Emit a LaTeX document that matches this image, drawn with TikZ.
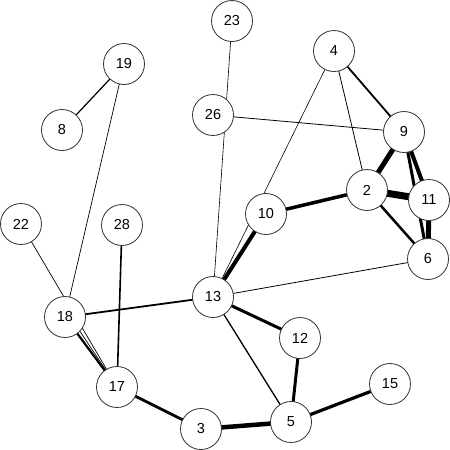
\documentclass[tikz,border=0pt]{standalone}
\usepackage{fontspec}
\setmainfont{Liberation Sans}
\usetikzlibrary{backgrounds}
\tikzset{
  vert/.style={circle, draw=black!80, line width=0.8pt, fill=white, minimum size=41pt, inner sep=0pt, font=\fontsize{14.5}{15}\selectfont},
  e/.style={line width=#1, draw=black},
}
\begin{document}
\begin{tikzpicture}[x=1pt,y=-1pt]
\useasboundingbox (0,0) rectangle (450,450);
\node[vert] (n23) at (232,21) {23};
\node[vert] (n4) at (334,51) {4};
\node[vert] (n19) at (124,64) {19};
\node[vert] (n8) at (62,130) {8};
\node[vert] (n26) at (213,115) {26};
\node[vert] (n9) at (404,132) {9};
\node[vert] (n2) at (367,190) {2};
\node[vert] (n11) at (429,200) {11};
\node[vert] (n6) at (428,259) {6};
\node[vert] (n10) at (266,214) {10};
\node[vert] (n28) at (122,225) {28};
\node[vert] (n22) at (21,224) {22};
\node[vert] (n13) at (213,297) {13};
\node[vert] (n18) at (65,317) {18};
\node[vert] (n12) at (300,338) {12};
\node[vert] (n17) at (117,387) {17};
\node[vert] (n15) at (390,384) {15};
\node[vert] (n3) at (201,429) {3};
\node[vert] (n5) at (291,422) {5};
\begin{scope}[on background layer]
\draw[e=0.6pt] (n23.center) -- (n13.center);
\draw[e=0.8pt] (n26.center) -- (n9.center);
\draw[e=0.6pt] (n4.center) -- (n13.center);
\draw[e=0.8pt] (n4.center) -- (n2.center);
\draw[e=1.8pt] (n4.center) -- (n9.center);
\draw[e=5pt] (n9.center) -- (n2.center);
\draw[e=4pt] (n9.center) -- (n11.center);
\draw[e=3pt] (n9.center) -- (n6.center);
\draw[e=5pt] (n11.center) -- (n6.center);
\draw[e=7pt] (n2.center) -- (n11.center);
\draw[e=2.5pt] (n2.center) -- (n6.center);
\draw[e=3.5pt] (n2.center) -- (n10.center);
\draw[e=4pt] (n10.center) -- (n13.center);
\draw[e=0.8pt] (n13.center) -- (n6.center);
\draw[e=1.8pt] (n13.center) -- (n18.center);
\draw[e=3pt] (n13.center) -- (n12.center);
\draw[e=1.3pt] (n13.center) -- (n5.center);
\draw[e=3pt] (n12.center) -- (n5.center);
\draw[e=3.2pt] (n5.center) -- (n15.center);
\draw[e=4.5pt] (n3.center) -- (n5.center);
\draw[e=2.8pt] (n17.center) -- (n3.center);
\draw[e=1.6pt] (n28.center) -- (n17.center);
\draw[e=2.2pt] (n18.center) -- (n17.center);
\draw[e=0.7pt] (n22.center) -- (n17.center);
\draw[e=0.7pt] (n18.-44) -- (n17.center);
\draw[e=0.7pt] (n19.center) -- (n18.center);
\draw[e=1.2pt] (n19.center) -- (n8.center);
\end{scope}
\end{tikzpicture}
\end{document}
